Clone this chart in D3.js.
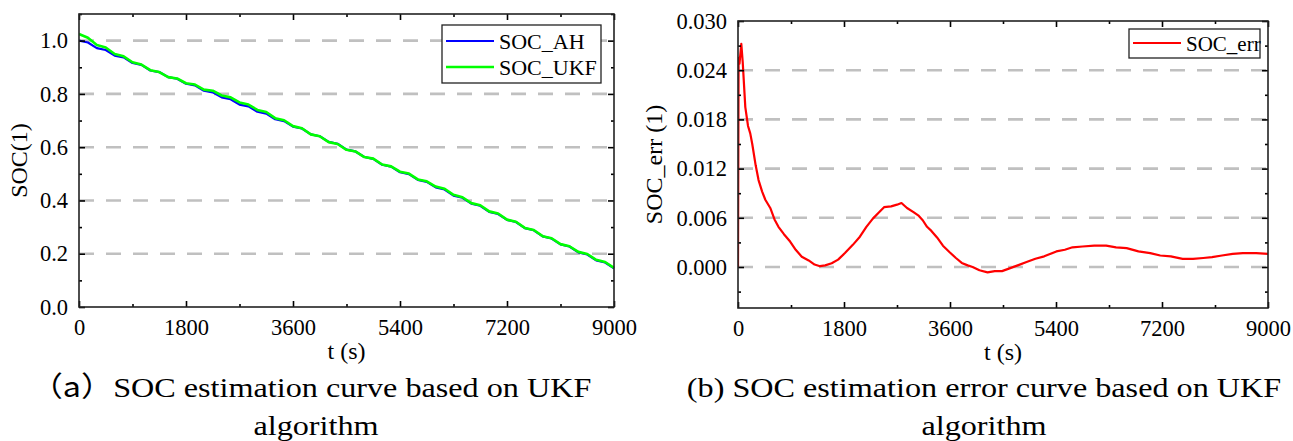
<!DOCTYPE html>
<html>
<head>
<meta charset="utf-8">
<script src="https://cdn.jsdelivr.net/npm/d3@7"></script>
<style>
  html, body { margin: 0; padding: 0; background: #fff; }
  svg { display: block; }
  text { font-family: "Times New Roman", Times, "Liberation Serif", serif; fill: #000; }
  .cjk { font-family: "Noto Sans CJK SC", sans-serif; }
</style>
</head>
<body>
<svg id="fig" width="1293" height="441"></svg>
<script>
// Time grid (s) for the SOC traces
const timeSOC = [0,150,300,450,600,750,900,1050,1200,1350,1500,1650,1800,1950,2100,2250,2400,2550,2700,2850,
  3000,3150,3300,3450,3600,3750,3900,4050,4200,4350,4500,4650,4800,4950,5100,5250,5400,5550,5700,5850,
  6000,6150,6300,6450,6600,6750,6900,7050,7200,7350,7500,7650,7800,7950,8100,8250,8400,8550,8700,8850,9000];

// Ampere-hour integration reference
const socAH = [1.000,0.993,0.972,0.965,0.944,0.937,0.916,0.909,0.888,0.882,0.863,0.857,0.838,0.832,0.812,0.806,
  0.787,0.780,0.760,0.753,0.733,0.726,0.705,0.698,0.677,0.670,0.648,0.641,0.620,0.613,0.591,0.584,0.563,0.556,
  0.534,0.527,0.506,0.499,0.477,0.470,0.449,0.441,0.418,0.410,0.388,0.380,0.357,0.349,0.327,0.319,0.296,0.288,
  0.265,0.257,0.235,0.227,0.205,0.197,0.175,0.167,0.145];

// UKF estimate
const socUKF = [1.025,1.011,0.984,0.974,0.950,0.941,0.919,0.910,0.889,0.882,0.863,0.858,0.840,0.835,0.816,0.812,
  0.794,0.787,0.768,0.760,0.740,0.732,0.709,0.701,0.679,0.671,0.648,0.641,0.619,0.612,0.590,0.584,0.563,0.557,
  0.535,0.528,0.508,0.501,0.479,0.472,0.452,0.444,0.421,0.412,0.390,0.382,0.359,0.351,0.328,0.320,0.297,0.289,
  0.266,0.258,0.236,0.228,0.207,0.199,0.177,0.169,0.147];

// Estimation error trace
const timeErr = [0,10,25,56,80,124,170,208,242,300,349,410,464,548,620,687,780,885,980,1083,1200,1300,1393,1480,
  1591,1700,1816,1950,2070,2180,2290,2400,2480,2600,2700,2776,2870,2980,3060,3137,3210,3284,3380,3480,3594,
  3700,3800,3900,3984,4100,4238,4360,4483,4600,4750,4900,5050,5200,5406,5550,5680,5850,6050,6252,6420,6600,
  6800,7000,7170,7350,7550,7727,7900,8050,8218,8400,8573,8800,9000];
const socErr = [0.0,0.0255,0.0248,0.0272,0.0250,0.0195,0.0172,0.0163,0.0150,0.0124,0.0106,0.0092,0.0082,0.0072,
  0.0058,0.0049,0.0040,0.0031,0.0021,0.00125,0.0008,0.0003,0.0001,0.0002,0.00045,0.0009,0.0017,0.0027,0.0037,
  0.0049,0.0059,0.0067,0.0073,0.0074,0.0076,0.0078,0.0072,0.0067,0.0063,0.0057,0.0049,0.0044,0.0036,0.0026,
  0.0018,0.0011,0.0005,0.0002,0.0,-0.0004,-0.00065,-0.0005,-0.0005,-0.0002,0.0002,0.0006,0.0010,0.0013,0.0019,
  0.0021,0.0024,0.0025,0.0026,0.0026,0.0024,0.0023,0.0019,0.0017,0.0014,0.0013,0.0010,0.0010,0.0011,0.0012,
  0.0014,0.0016,0.0017,0.0017,0.0016];

// Axis ticks
const timeTicks = [0,1800,3600,5400,7200,9000];
const socTicks = [0.0,0.2,0.4,0.6,0.8,1.0];
const errTicks = [0.000,0.006,0.012,0.018,0.024,0.030];

const svg = d3.select("#fig");

function panel(opt) {
  const { x0, x1, y0, y1 } = opt.box;
  const x = d3.scaleLinear().domain([0, 9000]).range([x0, x1]);
  const y = d3.scaleLinear().domain(opt.yDomain).range([y1, y0]);
  const g = svg.append("g");

  // dashed grid at major y ticks
  g.selectAll("line.grid").data(opt.gridTicks).join("line")
    .attr("x1", x0).attr("x2", x1)
    .attr("y1", d => y(d)).attr("y2", d => y(d))
    .attr("stroke", "#c0c0c0").attr("stroke-width", 2.6)
    .attr("stroke-dasharray", "15,12");

  // series
  const clip = "clip" + opt.id;
  g.append("clipPath").attr("id", clip).append("rect")
    .attr("x", x0).attr("y", y0 - 2).attr("width", x1 - x0 + 2).attr("height", y1 - y0 + 2);
  opt.series.forEach(s => {
    const pts = s.t.map((t, i) => [t, s.v[i]]);
    g.append("path").datum(pts)
      .attr("clip-path", `url(#${clip})`)
      .attr("fill", "none").attr("stroke", s.color).attr("stroke-width", s.width)
      .attr("stroke-linejoin", "round")
      .attr("d", d3.line().x(d => x(d[0])).y(d => y(d[1])));
  });

  // axes: major + minor ticks pointing inward on all four sides
  const majorX = timeTicks, minorX = d3.range(900, 9000, 1800);
  const majorY = opt.yTicks, minorY = opt.yMinor;
  const fmt = d3.format(opt.yFormat);

  const bottom = d3.axisBottom(x).tickValues(majorX).tickSizeInner(-6).tickSizeOuter(0).tickPadding(12).tickFormat(d3.format("d"));
  g.append("g").attr("transform", `translate(0,${y1})`).call(bottom);
  const left = d3.axisLeft(y).tickValues(majorY).tickSizeInner(-6).tickSizeOuter(0).tickPadding(11).tickFormat(fmt);
  g.append("g").attr("transform", `translate(${x0},0)`).call(left);
  g.append("g").attr("transform", `translate(0,${y0})`)
    .call(d3.axisTop(x).tickValues(majorX).tickSizeInner(-6).tickSizeOuter(0).tickFormat(""));
  g.append("g").attr("transform", `translate(${x1},0)`)
    .call(d3.axisRight(y).tickValues(majorY).tickSizeInner(-6).tickSizeOuter(0).tickFormat(""));
  g.append("g").attr("transform", `translate(0,${y1})`)
    .call(d3.axisBottom(x).tickValues(minorX).tickSizeInner(-3).tickSizeOuter(0).tickFormat(""));
  g.append("g").attr("transform", `translate(0,${y0})`)
    .call(d3.axisTop(x).tickValues(minorX).tickSizeInner(-3).tickSizeOuter(0).tickFormat(""));
  g.append("g").attr("transform", `translate(${x0},0)`)
    .call(d3.axisLeft(y).tickValues(minorY).tickSizeInner(-3).tickSizeOuter(0).tickFormat(""));
  g.append("g").attr("transform", `translate(${x1},0)`)
    .call(d3.axisRight(y).tickValues(minorY).tickSizeInner(-3).tickSizeOuter(0).tickFormat(""));

  g.selectAll(".domain").remove();
  g.selectAll(".tick line").attr("stroke", "#000").attr("stroke-width", 1.6);
  g.selectAll(".tick text").attr("font-size", 22.5)
    .attr("font-family", null).attr("fill", "#000");

  // frame
  g.append("rect").attr("x", x0).attr("y", y0).attr("width", x1 - x0).attr("height", y1 - y0)
    .attr("fill", "none").attr("stroke", "#222").attr("stroke-width", 1.6);

  // axis titles
  g.append("text").attr("x", (x0 + x1) / 2).attr("y", y1 + 52)
    .attr("text-anchor", "middle").attr("font-size", 24).text("t (s)");
  g.append("text").attr("transform", `translate(${opt.yTitleX},${(y0 + y1) / 2}) rotate(-90)`)
    .attr("text-anchor", "middle").attr("font-size", 24).text(opt.yTitle);

  // legend
  const L = opt.legend;
  g.append("rect").attr("x", L.x).attr("y", L.y).attr("width", L.w).attr("height", L.h)
    .attr("fill", "#fff").attr("stroke", "#222").attr("stroke-width", 1.3);
  opt.series.forEach((s, i) => {
    const cy = L.y + L.first + i * 26;
    g.append("line").attr("x1", L.x + 4).attr("x2", L.x + 52).attr("y1", cy).attr("y2", cy)
      .attr("stroke", s.color).attr("stroke-width", s.width);
    g.append("text").attr("x", L.x + 57).attr("y", cy + 7.5).attr("font-size", L.fs).text(s.name);
  });

  // caption, slightly widened like the typeset figure captions
  opt.caption.forEach((line, i) => {
    const t = g.append("g")
      .attr("transform", `translate(${opt.captionX[i]},${397 + i * 38}) scale(1.15,1)`)
      .append("text").attr("text-anchor", "middle").attr("font-size", 28);
    line.forEach(part => {
      t.append("tspan").attr("class", part.cjk ? "cjk" : null).text(part.s);
    });
  });
}

panel({
  id: "a",
  box: { x0: 79, x1: 614, y0: 14, y1: 307 },
  yDomain: [0, 1.1],
  yTicks: socTicks,
  yMinor: [0.1, 0.3, 0.5, 0.7, 0.9, 1.1],
  gridTicks: [0.2, 0.4, 0.6, 0.8, 1.0],
  yFormat: ".1f",
  yTitle: "SOC(1)",
  yTitleX: 27,
  series: [
    { name: "SOC_AH", t: timeSOC, v: socAH, color: "#0000ff", width: 2.2 },
    { name: "SOC_UKF", t: timeSOC, v: socUKF, color: "#00ff00", width: 2.6 }
  ],
  legend: { x: 442, y: 25, w: 159, h: 58, first: 16, fs: 22 },
  caption: [[{ s: "（a）", cjk: true }, { s: "SOC estimation curve based on UKF" }], [{ s: "algorithm" }]],
  captionX: [311, 316]
});

panel({
  id: "b",
  box: { x0: 738, x1: 1268, y0: 21, y1: 308 },
  yDomain: [-0.005, 0.030],
  yTicks: errTicks,
  yMinor: [-0.003, 0.003, 0.009, 0.015, 0.021, 0.027],
  gridTicks: [0.000, 0.006, 0.012, 0.018, 0.024],
  yFormat: ".3f",
  yTitle: "SOC_err (1)",
  yTitleX: 662,
  series: [
    { name: "SOC_err", t: timeErr, v: socErr, color: "#ff0000", width: 2.2 }
  ],
  legend: { x: 1129, y: 29, w: 131, h: 29, first: 14, fs: 21 },
  caption: [[{ s: "(b) SOC estimation error curve based on UKF" }], [{ s: "algorithm" }]],
  captionX: [984, 984]
});
</script>
</body>
</html>
